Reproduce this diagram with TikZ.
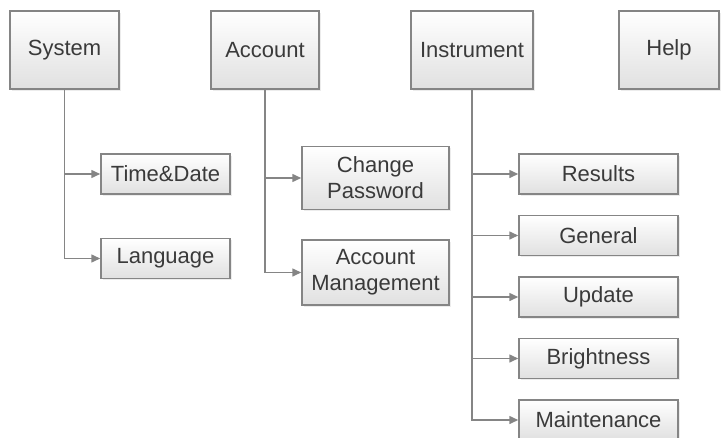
\documentclass[tikz,border=0pt]{standalone}
\usepackage{fontspec}
\setmainfont{Liberation Sans}
\usepackage{tikz}
\usetikzlibrary{arrows.meta,shadows}
\definecolor{boxline}{HTML}{858585}
\definecolor{boxtext}{HTML}{3A3A3A}
\tikzset{menubox/.style={rectangle,draw=boxline,line width=1.5pt,top color=white,bottom color=black!12,
  text=boxtext,align=center,inner sep=0pt,
  font=\fontsize{22}{26}\selectfont,
  drop shadow={opacity=0.15,shadow xshift=1.5pt,shadow yshift=-1.5pt}}}
\tikzset{link/.style={draw=boxline,line width=1.5pt,-{Triangle[length=9pt,width=8pt]}}}

\begin{document}
\begin{tikzpicture}[x=1pt,y=1pt]
\useasboundingbox (0,0) rectangle (721,-437);
% top menu
\node (sys) [menubox,minimum width=109pt,minimum height=78pt] at (64.5,-50) {System};
\node (acc) [menubox,minimum width=108pt,minimum height=78pt] at (265,-50) {Account};
\node (ins) [menubox,minimum width=122pt,minimum height=78pt] at (472,-50) {Instrument};
\node (hlp) [menubox,minimum width=100pt,minimum height=78pt] at (669,-50) {Help};
%
\node (tim) [menubox,minimum width=129pt,minimum height=40pt] at (165.5,-174) {Time\&Date};
\node (lan) [menubox,minimum width=129pt,minimum height=40pt] at (165.5,-258.5) {Language};
%
\node (pwd) [menubox,minimum width=147pt,minimum height=63pt] at (375.5,-178) {Change\\Password};
\node (mgt) [menubox,minimum width=147pt,minimum height=65pt] at (375.5,-272.5) {Account\\Management};
%
\node (res) [menubox,minimum width=159pt,minimum height=40pt] at (598.5,-174) {Results};
\node (gen) [menubox,minimum width=159pt,minimum height=40pt] at (598.5,-235.5) {General};
\node (upd) [menubox,minimum width=159pt,minimum height=40pt] at (598.5,-297) {Update};
\node (bri) [menubox,minimum width=159pt,minimum height=40pt] at (598.5,-358.5) {Brightness};
\node (mnt) [menubox,minimum width=159pt,minimum height=40pt] at (598.5,-420) {Maintenance};
%
\path[link] (sys.south) |- (tim.west);
\path[link] (sys.south) |- (lan.west);
\path[link] (acc.south) |- (pwd.west);
\path[link] (acc.south) |- (mgt.west);
\path[link] (ins.south) |- (res.west);
\path[link] (ins.south) |- (gen.west);
\path[link] (ins.south) |- (upd.west);
\path[link] (ins.south) |- (bri.west);
\path[link] (ins.south) |- (mnt.west);
\end{tikzpicture}
\end{document}
